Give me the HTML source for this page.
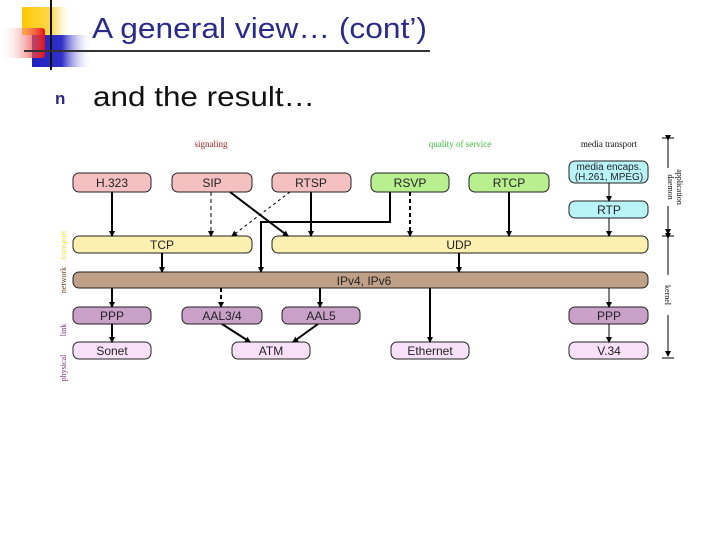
<!DOCTYPE html>
<html><head><meta charset="utf-8"><style>
html,body{margin:0;padding:0;background:#fff;width:720px;height:540px;overflow:hidden}
svg{display:block}
.b{font-family:"Liberation Sans",sans-serif;font-size:12px;fill:#222;text-anchor:middle}
.s{font-family:"Liberation Serif",serif;font-size:9px;text-anchor:middle}
</style></head><body>
<svg width="720" height="540" viewBox="0 0 720 540" xmlns="http://www.w3.org/2000/svg">
<defs>
<linearGradient id="gy" x1="0" x2="1"><stop offset="0" stop-color="#ffc800"/><stop offset="0.6" stop-color="#ffd850"/><stop offset="1" stop-color="#fff" stop-opacity="0"/></linearGradient>
<linearGradient id="gr" x1="0" x2="1"><stop offset="0" stop-color="#fff" stop-opacity="0"/><stop offset="1" stop-color="#e81010"/></linearGradient>
<linearGradient id="gb" x1="0" x2="1"><stop offset="0" stop-color="#2020c0"/><stop offset="0.5" stop-color="#3030c8"/><stop offset="1" stop-color="#fff" stop-opacity="0"/></linearGradient>
<marker id="a" markerWidth="6" markerHeight="6" refX="5" refY="3" orient="auto" markerUnits="userSpaceOnUse"><path d="M0,0 L6,3 L0,6 z" fill="#000"/></marker>
</defs>
<rect x="22" y="7" width="50" height="28" fill="url(#gy)"/>
<rect x="32" y="35" width="60" height="32" fill="url(#gb)"/>
<rect x="0" y="28" width="45" height="30" rx="3" fill="url(#gr)"/>
<line x1="51" y1="0" x2="51" y2="70" stroke="#111" stroke-width="2"/>
<line x1="24" y1="51" x2="430" y2="51" stroke="#333" stroke-width="2"/>
<text x="92" y="38" font-family="Liberation Sans,sans-serif" font-size="29" fill="#2a2a8a" textLength="335" lengthAdjust="spacingAndGlyphs">A general view… (cont’)</text>
<text x="55" y="104" font-family="Liberation Sans,sans-serif" font-size="17" font-weight="bold" fill="#2a2a8a">n</text>
<text x="93" y="106" font-family="Liberation Sans,sans-serif" font-size="28" fill="#111" textLength="222" lengthAdjust="spacingAndGlyphs">and the result…</text>

<text class="s" x="211" y="147" fill="#a02020">signaling</text>
<text class="s" x="460" y="147" fill="#40c040">quality of service</text>
<text class="s" x="609" y="147" fill="#111">media transport</text>

<g stroke="#222" stroke-width="1">
<rect x="73" y="173" width="78" height="19" rx="6" fill="#f4c0c0"/>
<rect x="172" y="173" width="80" height="19" rx="6" fill="#f4c0c0"/>
<rect x="272" y="173" width="79" height="19" rx="6" fill="#f4c0c0"/>
<rect x="371" y="173" width="78" height="19" rx="6" fill="#b8f090"/>
<rect x="469" y="173" width="80" height="19" rx="6" fill="#b8f090"/>
<rect x="569" y="161" width="79" height="22" rx="6" fill="#b8f4f8"/>
<rect x="569" y="201" width="79" height="17" rx="6" fill="#b8f4f8"/>
<rect x="73" y="236" width="179" height="17" rx="6" fill="#fcf0b0"/>
<rect x="272" y="236" width="376" height="17" rx="6" fill="#fcf0b0"/>
<rect x="73" y="272" width="575" height="16" rx="6" fill="#c0a088"/>
<rect x="73" y="307" width="78" height="17" rx="6" fill="#c8a0c8"/>
<rect x="182" y="307" width="80" height="17" rx="6" fill="#c8a0c8"/>
<rect x="282" y="307" width="78" height="17" rx="6" fill="#c8a0c8"/>
<rect x="569" y="307" width="79" height="17" rx="6" fill="#c8a0c8"/>
<rect x="73" y="342" width="78" height="17" rx="6" fill="#f8e0f8"/>
<rect x="232" y="342" width="78" height="17" rx="6" fill="#f8e0f8"/>
<rect x="391" y="342" width="78" height="17" rx="6" fill="#f8e0f8"/>
<rect x="569" y="342" width="79" height="17" rx="6" fill="#f8e0f8"/>
</g>
<g class="b">
<text class="b" x="112" y="187">H.323</text>
<text class="b" x="212" y="187">SIP</text>
<text class="b" x="311" y="187">RTSP</text>
<text class="b" x="410" y="187">RSVP</text>
<text class="b" x="509" y="187">RTCP</text>
<text class="b" x="609" y="170" style="font-size:10px">media encaps.</text>
<text class="b" x="609" y="180" style="font-size:10px">(H.261, MPEG)</text>
<text class="b" x="609" y="214">RTP</text>
<text class="b" x="162" y="249">TCP</text>
<text class="b" x="459" y="249">UDP</text>
<text class="b" x="364" y="285">IPv4, IPv6</text>
<text class="b" x="112" y="320">PPP</text>
<text class="b" x="222" y="320">AAL3/4</text>
<text class="b" x="321" y="320">AAL5</text>
<text class="b" x="609" y="320">PPP</text>
<text class="b" x="112" y="355">Sonet</text>
<text class="b" x="271" y="355">ATM</text>
<text class="b" x="430" y="355">Ethernet</text>
<text class="b" x="609" y="355">V.34</text>
</g>
<g stroke="#000" stroke-width="2" fill="none" marker-end="url(#a)">
<line x1="112" y1="192" x2="112" y2="236"/>
<line x1="230" y1="192" x2="288" y2="236"/>
<line x1="311" y1="192" x2="311" y2="236"/>
<polyline points="390,192 390,222 261,222 261,272"/>
<line x1="509" y1="192" x2="509" y2="236"/>
<line x1="162" y1="253" x2="162" y2="272"/>
<line x1="459" y1="253" x2="459" y2="272"/>
<line x1="112" y1="288" x2="112" y2="307"/>
<line x1="320" y1="288" x2="320" y2="307"/>
<line x1="430" y1="288" x2="430" y2="342"/>
<line x1="112" y1="324" x2="112" y2="342"/>
<line x1="222" y1="324" x2="250" y2="342"/>
<line x1="318" y1="324" x2="293" y2="342"/>
</g>
<g stroke="#000" stroke-width="1" fill="none" marker-end="url(#a)">
<line x1="211" y1="192" x2="211" y2="236" stroke-dasharray="4,3"/>
<line x1="290" y1="192" x2="232" y2="236" stroke-dasharray="3,3"/>
<line x1="410" y1="192" x2="410" y2="236" stroke-dasharray="4,3" stroke-width="2"/>
<line x1="221" y1="288" x2="221" y2="307" stroke-dasharray="4,3" stroke-width="2"/>
<line x1="609" y1="183" x2="609" y2="201"/>
<line x1="609" y1="218" x2="609" y2="236"/>
<line x1="609" y1="288" x2="609" y2="307"/>
<line x1="609" y1="324" x2="609" y2="342"/>
</g>
<g stroke="#000" stroke-width="1">
<line x1="662" y1="138" x2="674" y2="138"/><line x1="662" y1="236" x2="674" y2="236"/><line x1="662" y1="358" x2="674" y2="358"/>
<line x1="668" y1="140" x2="668" y2="168" marker-start="url(#a)"/>
<line x1="668" y1="206" x2="668" y2="234" marker-end="url(#a)"/>
<line x1="668" y1="238" x2="668" y2="275" marker-start="url(#a)"/>
<line x1="668" y1="315" x2="668" y2="356" marker-end="url(#a)"/>
</g>
<text class="s" transform="translate(672,187) rotate(90)" fill="#111" style="font-size:8px"><tspan x="0" y="-5">application</tspan><tspan x="0" y="4">daemon</tspan></text>
<text class="s" transform="translate(668,295) rotate(90)" fill="#111" style="font-size:8px" y="3">kernel</text>
<g class="s" style="font-size:8px">
<text class="s" transform="translate(66,245) rotate(-90)" fill="#e8e040" style="font-size:8px">transport</text>
<text class="s" transform="translate(66,280) rotate(-90)" fill="#604020" style="font-size:8px">network</text>
<text class="s" transform="translate(66,330) rotate(-90)" fill="#803080" style="font-size:8px">link</text>
<text class="s" transform="translate(66,368) rotate(-90)" fill="#803080" style="font-size:8px">physical</text>
</g>
</svg>
</body></html>
